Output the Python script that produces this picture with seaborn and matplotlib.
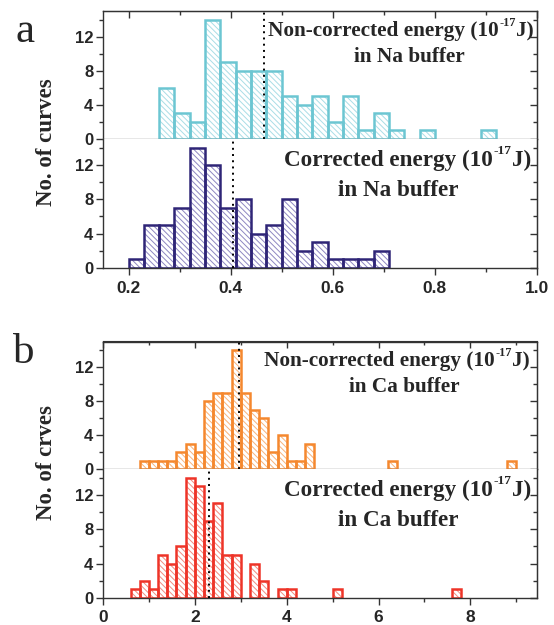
import numpy as np
import pandas as pd
import seaborn as sns
import matplotlib.pyplot as plt
from matplotlib.ticker import MultipleLocator, NullFormatter

sns.set_style("ticks")
plt.rcParams['font.family'] = ['Liberation Sans', 'DejaVu Sans']
plt.rcParams['hatch.linewidth'] = 0.7

# histogram counts
na_raw_start, na_raw_width = 0.26, 0.03
na_raw_counts = [6, 3, 2, 14, 9, 8, 8, 8, 5, 4, 5, 2, 5, 1, 3, 1, 0, 1, 0, 0, 0, 1]
na_cor_start, na_cor_width = 0.20, 0.03
na_cor_counts = [1, 5, 5, 7, 14, 12, 7, 8, 4, 5, 8, 2, 3, 1, 1, 1, 2]

ca_raw_start, ca_raw_width = 0.8, 0.2
ca_raw_counts = [1, 1, 1, 1, 2, 3, 2, 8, 9, 9, 14, 9, 7, 6, 2, 4, 1, 1, 3,
                 0, 0, 0, 0, 0, 0, 0, 0, 1,
                 0, 0, 0, 0, 0, 0, 0, 0, 0, 0, 0, 0, 1]
ca_cor_start, ca_cor_width = 0.6, 0.2
ca_cor_counts = [1, 2, 1, 5, 4, 6, 14, 13, 9, 11, 5, 5, 0, 4, 2, 0, 1, 1,
                 0, 0, 0, 0, 1,
                 0, 0, 0, 0, 0, 0, 0, 0, 0, 0, 0, 0, 1]

# mean values (dotted lines)
na_raw_mean, na_cor_mean = 0.465, 0.404
ca_raw_mean, ca_cor_mean = 2.97, 2.30

fig = plt.figure(figsize=(5.54, 6.25), dpi=100)
L, W = 103/554, 434/554
boxes = [(1-139/625, 128/625), (1-268/625, 129/625),
         (1-469/625, 127.5/625), (1-598/625, 129/625)]
axes = [fig.add_axes([L, b, W, h]) for b, h in boxes]

# (start, width, counts, mean, edge colour, hatch colour, title, buffer, title pos, buffer pos, font size)
panels = [
    (na_raw_start, na_raw_width, na_raw_counts, na_raw_mean, '#6cc6d2', '#a9dde6',
     'Non-corrected energy (10', 'in Na buffer', (268, 31), (409, 57), 15.3),
    (na_cor_start, na_cor_width, na_cor_counts, na_cor_mean, '#2f2577', '#8e87c2',
     'Corrected energy (10', 'in Na buffer', (284, 160), (398, 190), 16.7),
    (ca_raw_start, ca_raw_width, ca_raw_counts, ca_raw_mean, '#f5882e', '#f8b27a',
     'Non-corrected energy (10', 'in Ca buffer', (264, 361), (404, 387), 15.3),
    (ca_cor_start, ca_cor_width, ca_cor_counts, ca_cor_mean, '#ee3428', '#f28a7e',
     'Corrected energy (10', 'in Ca buffer', (284, 490), (398, 520), 16.7),
]

tc = '#333333'
serif = 'Liberation Serif'
for i, (ax, (start, width, counts, mean, edge, hatchc, t1, t2, p1, p2, fs)) in enumerate(zip(axes, panels)):
    n = len(counts)
    edges = [round(start + width*k, 4) for k in range(n+1)]
    df = pd.DataFrame({'x': [e + width/2 for e in edges[:-1]], 'w': counts})
    # hatched fill
    sns.histplot(data=df, x='x', weights='w', bins=edges, ax=ax, color='white',
                 edgecolor=hatchc, linewidth=0, hatch='\\\\\\\\\\\\', alpha=1)
    # outlines
    sns.histplot(data=df, x='x', weights='w', bins=edges, ax=ax, fill=False,
                 color=edge, linewidth=1.8)
    for p in list(ax.patches):
        if p.get_height() == 0:
            p.remove()
    ax.axvline(mean, color='black', ls=(0, (1, 2.2)), lw=1.4, zorder=5)
    ax.set_ylim(0, 15)
    if i < 2:
        ax.set_xlim(0.15, 1.0)
        xmaj, xmin = 0.2, 0.1
    else:
        ax.set_xlim(0, 9.45)
        xmaj, xmin = 2, 1
    ax.xaxis.set_major_locator(MultipleLocator(xmaj))
    ax.xaxis.set_minor_locator(MultipleLocator(xmin))
    ax.yaxis.set_major_locator(MultipleLocator(4))
    ax.yaxis.set_minor_locator(MultipleLocator(2))
    ax.set_xlabel('')
    ax.set_ylabel('')
    for s in ax.spines.values():
        s.set_color(tc)
        s.set_linewidth(1.0)
    ax.tick_params(axis='y', which='both', left=True, right=False, direction='out',
                   labelsize=12, width=1, color=tc, pad=2)
    ax.tick_params(axis='y', which='major', length=5)
    ax.tick_params(axis='y', which='minor', length=3)
    for lab in ax.get_yticklabels():
        lab.set_fontweight('bold')
    # inward ticks on the right spine
    sec = ax.secondary_yaxis('right')
    sec.yaxis.set_major_locator(MultipleLocator(4))
    sec.yaxis.set_minor_locator(MultipleLocator(2))
    sec.yaxis.set_major_formatter(NullFormatter())
    sec.spines['right'].set_color(tc)
    sec.tick_params(which='both', direction='in', width=1, color=tc)
    sec.tick_params(which='major', length=5)
    sec.tick_params(which='minor', length=3)
    if i % 2 == 0:
        ax.spines['bottom'].set_color('#888888')
        ax.tick_params(axis='x', which='both', bottom=False, labelbottom=False)
        secx = ax.secondary_xaxis('top')
        secx.xaxis.set_major_locator(MultipleLocator(xmaj))
        secx.xaxis.set_minor_locator(MultipleLocator(xmin))
        secx.xaxis.set_major_formatter(NullFormatter())
        secx.spines['top'].set_color(tc)
        secx.tick_params(which='both', direction='in', width=1, color=tc)
        secx.tick_params(which='major', length=5)
        secx.tick_params(which='minor', length=3)
    else:
        ax.spines['top'].set_visible(False)
        ax.tick_params(axis='x', which='both', bottom=True, top=False, direction='out',
                       labelsize=12.5, width=1, color=tc, pad=4)
        ax.tick_params(axis='x', which='major', length=5)
        ax.tick_params(axis='x', which='minor', length=3)
        for lab in ax.get_xticklabels():
            lab.set_fontweight('bold')
    # title with superscript built from pieces
    base = fig.text(p1[0]/554, 1-p1[1]/625, t1, ha='left', va='center',
                    fontsize=fs, fontweight='bold', family=serif)
    ann_sup = fig.add_artist(plt.Annotation('-17', xy=(1.0, 1.0), xycoords=base,
                                            xytext=(0.5, 3), textcoords='offset points',
                                            ha='left', va='top', fontsize=fs*0.58,
                                            fontweight='bold', family=serif))
    fig.add_artist(plt.Annotation('J)', xy=(1.0, 0), xycoords=(ann_sup, base),
                                  ha='left', va='bottom', fontsize=fs,
                                  fontweight='bold', family=serif))
    fig.text(p2[0]/554, 1-p2[1]/625, t2, ha='center', va='center',
             fontsize=fs, fontweight='bold', family=serif)

fig.text(46/554, 1-142/625, 'No. of curves', rotation=90, ha='center', va='center',
         fontsize=16.5, fontweight='bold', family=serif)
fig.text(46/554, 1-463/625, 'No. of crves', rotation=90, ha='center', va='center',
         fontsize=16.5, fontweight='bold', family=serif)
fig.text(25/554, 1-32/625, 'a', ha='center', va='center', fontsize=31, family=serif)
fig.text(24/554, 1-353/625, 'b', ha='center', va='center', fontsize=31, family=serif)

fig.savefig('out.png', dpi=100, facecolor='white')
